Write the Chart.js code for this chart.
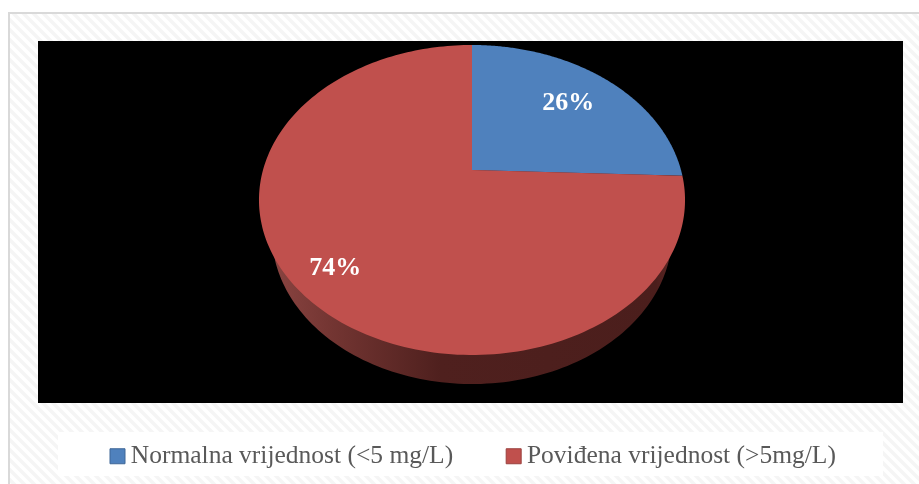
<!DOCTYPE html>
<html lang="hr">
<head>
    <meta charset="UTF-8">
    <title>Pie</title>
    <style>
        html, body { margin: 0; padding: 0; background: #fff; }
        canvas { display: block; }
    </style>
</head>
<script src="https://cdn.jsdelivr.net/npm/chart.js"></script>
<body>
<canvas id="myChart" width="919" height="484"></canvas>
</body>
<script>
    const categories = ['Normalna vrijednost (<5 mg/L)', 'Povi\u0111ena vrijednost (>5mg/L)'];
    const values = [25.6, 74.4];
    const sliceColors = ['#4f81bd', '#c0504d'];
    const sliceBorders = ['#3f6797', '#9a403e'];

    // tilted disc: maps a point of the unit circle to the picture
    const disc = { cx: 472, r: 209, cy: 170, a: 116.3, c: -0.1935 };
    function project(angle, f) {
        const u = Math.cos(angle) * f;
        const v = Math.sin(angle) * f;
        const w = 1 + disc.c * v;
        return { x: disc.cx + disc.r * u / w, y: (disc.a * v + disc.cy) / w };
    }
    // lower rim of the side wall
    function lower(p) {
        return { x: 472 + (p.x - 472) * 0.939, y: 234 + (p.y - 200) * 0.968 };
    }

    function slicePath(ctx, el, map) {
        ctx.beginPath();
        const c = map(project(0, 0));
        ctx.moveTo(c.x, c.y);
        const steps = 200;
        for (let i = 0; i <= steps; i++) {
            const p = map(project(el.startAngle + (el.endAngle - el.startAngle) * i / steps, 1));
            ctx.lineTo(p.x, p.y);
        }
        ctx.closePath();
    }

    function hatch() {
        const s = document.createElement('canvas');
        s.width = 10; s.height = 10;
        const g = s.getContext('2d');
        g.fillStyle = '#ffffff';
        g.fillRect(0, 0, 10, 10);
        g.strokeStyle = '#f5f5f5';
        g.lineWidth = 3.5;
        for (let i = -10; i <= 10; i += 10) {
            g.beginPath();
            g.moveTo(i - 2, -2);
            g.lineTo(i + 12, 12);
            g.stroke();
        }
        return s;
    }

    const backdrop = {
        id: 'backdrop',
        beforeDraw(chart) {
            const ctx = chart.ctx;
            ctx.save();
            ctx.fillStyle = '#ffffff';
            ctx.fillRect(0, 0, 919, 484);
            ctx.fillStyle = '#d9d9d9';
            ctx.fillRect(8, 12, 911, 472);
            ctx.fillStyle = ctx.createPattern(hatch(), 'repeat');
            ctx.fillRect(10, 14, 909, 470);
            ctx.fillStyle = '#000000';
            ctx.fillRect(38, 41, 865, 362);
            ctx.fillStyle = '#ffffff';
            ctx.fillRect(58, 432, 825, 44);
            ctx.restore();
        }
    };

    const pie3d = {
        id: 'pie3d',
        beforeDatasetsDraw(chart) {
            const ctx = chart.ctx;
            const arcs = chart.getDatasetMeta(0).data;
            const spots = [{ f: 0.7, dy: 0 }, { f: 0.81, dy: 4 }];
            ctx.save();
            const wall = ctx.createLinearGradient(272, 0, 672, 0);
            wall.addColorStop(0, '#8a4441');
            wall.addColorStop(0.15, '#733532');
            wall.addColorStop(0.42, '#4f201e');
            wall.addColorStop(0.96, '#4b1e1c');
            wall.addColorStop(1, '#5e2725');
            arcs.forEach(function (el) {
                slicePath(ctx, el, lower);
                ctx.fillStyle = wall;
                ctx.fill();
            });
            arcs.forEach(function (el, i) {
                slicePath(ctx, el, function (p) { return p; });
                ctx.fillStyle = sliceColors[i];
                ctx.fill();
            });
            ctx.fillStyle = '#ffffff';
            ctx.font = 'bold 26px "Liberation Serif"';
            ctx.textAlign = 'center';
            ctx.textBaseline = 'middle';
            arcs.forEach(function (el, i) {
                const mid = (el.startAngle + el.endAngle) / 2;
                const p = project(mid, spots[i].f);
                ctx.fillText(Math.round(values[i]) + '%', p.x, p.y + spots[i].dy);
            });
            ctx.restore();
            return false;
        }
    };

    new Chart(document.getElementById('myChart'), {
        type: 'pie',
        data: {
            labels: categories,
            datasets: [{
                data: values,
                backgroundColor: sliceColors,
                borderWidth: 0
            }]
        },
        options: {
            responsive: false,
            animation: false,
            layout: { padding: { left: 57, right: 0, top: 41, bottom: 5 } },
            plugins: {
                tooltip: { enabled: false },
                legend: {
                    position: 'bottom',
                    align: 'start',
                    labels: {
                        usePointStyle: true,
                        pointStyle: 'rect',
                        boxWidth: 1,
                        boxHeight: 15,
                        padding: 60,
                        color: '#595959',
                        font: { family: 'Liberation Serif', size: 25.5 },
                        generateLabels: function (chart) {
                            return categories.map(function (c, i) {
                                return {
                                    text: c,
                                    fontColor: '#595959',
                                    fillStyle: sliceColors[i],
                                    strokeStyle: sliceBorders[i],
                                    lineWidth: 1,
                                    pointStyle: 'rect',
                                    index: i
                                };
                            });
                        }
                    }
                }
            }
        },
        plugins: [backdrop, pie3d]
    });
</script>
</html>
